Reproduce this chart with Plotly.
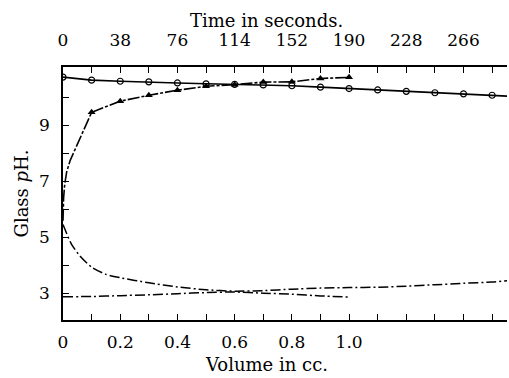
import plotly.graph_objects as go

# ---- data ----
# Time series (top axis, seconds)
circ_t = [0, 19, 38, 57, 76, 95, 114, 133, 152, 171, 190, 209, 228, 247, 266, 285]
circ_ph = [10.73, 10.62, 10.58, 10.56, 10.52, 10.49, 10.47, 10.45, 10.42, 10.37, 10.32, 10.27, 10.22, 10.17, 10.13, 10.08]
circ_line_t = circ_t + [295]
circ_line_ph = circ_ph + [10.05]

desc_t = [0, 5.7, 11.4, 19, 28.5, 38, 57, 76, 95, 114, 133, 152, 171, 190, 209, 228, 247, 266, 285, 295]
desc_ph = [5.46, 4.75, 4.33, 3.94, 3.68, 3.56, 3.38, 3.23, 3.13, 3.08, 3.1, 3.15, 3.19, 3.21, 3.22, 3.26, 3.31, 3.36, 3.41, 3.45]

# Volume series (bottom axis, cc)
tri_v = [0.1, 0.2, 0.3, 0.4, 0.5, 0.6, 0.7, 0.8, 0.9, 1.0]
tri_ph = [9.47, 9.87, 10.08, 10.26, 10.40, 10.46, 10.55, 10.56, 10.68, 10.72]
tri_line_v = [0, 0.002, 0.006, 0.013, 0.025, 0.042, 0.065, 0.083] + tri_v
tri_line_ph = [5.6, 6.4, 6.9, 7.35, 7.75, 8.15, 8.7, 9.1] + tri_ph

low_v = [0, 0.1, 0.2, 0.3, 0.4, 0.5, 0.6, 0.7, 0.8, 0.9, 1.0]
low_ph = [2.88, 2.89, 2.92, 2.95, 2.99, 3.03, 3.05, 3.01, 2.97, 2.91, 2.87]

vol_ticks = [round(i * 0.1, 1) for i in range(16)]
vol_labels = ["0", "", "0.2", "", "0.4", "", "0.6", "", "0.8", "", "1.0", "", "", "", "", ""]
time_ticks = [19 * i for i in range(16)]
time_labels = ["0", "", "38", "", "76", "", "114", "", "152", "", "190", "", "228", "", "266", ""]
ph_ticks = [3, 4, 5, 6, 7, 8, 9, 10]
ph_labels = ["3", "", "5", "", "7", "", "9", ""]

FONT = "DejaVu Serif"
K = "black"
TICK_SIZE = 17
TITLE_SIZE = 18

fig = go.Figure()
fig.add_trace(go.Scatter(x=circ_line_t, y=circ_line_ph, xaxis="x2", mode="lines",
                         line=dict(color=K, width=1.6), showlegend=False, hoverinfo="skip"))
fig.add_trace(go.Scatter(x=circ_t, y=circ_ph, xaxis="x2", mode="markers",
                         marker=dict(symbol="circle-open", size=6, color=K, line=dict(width=1.2)),
                         showlegend=False))
fig.add_trace(go.Scatter(x=desc_t, y=desc_ph, xaxis="x2", mode="lines",
                         line=dict(color=K, width=1.5, dash="10px,3px,2px,3px", shape="spline", smoothing=0.6),
                         showlegend=False))
fig.add_trace(go.Scatter(x=tri_line_v, y=tri_line_ph, mode="lines",
                         line=dict(color=K, width=1.6, dash="12px,2px,3px,2px"),
                         showlegend=False, hoverinfo="skip"))
fig.add_trace(go.Scatter(x=tri_v, y=tri_ph, mode="markers",
                         marker=dict(symbol="triangle-up", size=7, color=K),
                         showlegend=False))
fig.add_trace(go.Scatter(x=low_v, y=low_ph, mode="lines",
                         line=dict(color=K, width=1.5, dash="10px,3px,2px,3px", shape="spline", smoothing=0.6),
                         showlegend=False))

axis_common = dict(showline=True, linecolor=K, linewidth=1.5, ticks="inside", ticklen=6,
                   tickwidth=1.2, tickcolor=K, showgrid=False, zeroline=False,
                   tickfont=dict(family=FONT, size=TICK_SIZE, color=K))

fig.update_layout(
    width=509, height=378,
    margin=dict(l=63, r=2, t=67, b=58),
    paper_bgcolor="white", plot_bgcolor="white",
    font=dict(family=FONT, size=TICK_SIZE, color=K),
    xaxis=dict(range=[0, 1.552], tickmode="array", tickvals=vol_ticks, ticktext=vol_labels,
               ticklabelstandoff=6, **axis_common),
    xaxis2=dict(range=[0, 1.552 * 190], overlaying="x", side="top", tickmode="array",
                tickvals=time_ticks, ticktext=time_labels, ticklabelstandoff=12,
                **axis_common),
    yaxis=dict(range=[2.05, 11.09], tickmode="array", tickvals=ph_ticks, ticktext=ph_labels,
               ticklabelstandoff=8,
               title=dict(text="Glass <i>p</i>H.", font=dict(family=FONT, size=TITLE_SIZE), standoff=6),
               **axis_common),
    annotations=[
        dict(text="Time in seconds.", xref="paper", yref="paper", x=0.459, y=1.182,
             xanchor="center", yanchor="middle", showarrow=False,
             font=dict(family=FONT, size=TITLE_SIZE, color=K)),
        dict(text="Volume in cc.", xref="paper", yref="paper", x=0.459, y=-0.174,
             xanchor="center", yanchor="middle", showarrow=False,
             font=dict(family=FONT, size=TITLE_SIZE, color=K)),
    ],
)

fig.write_html("out.html")
